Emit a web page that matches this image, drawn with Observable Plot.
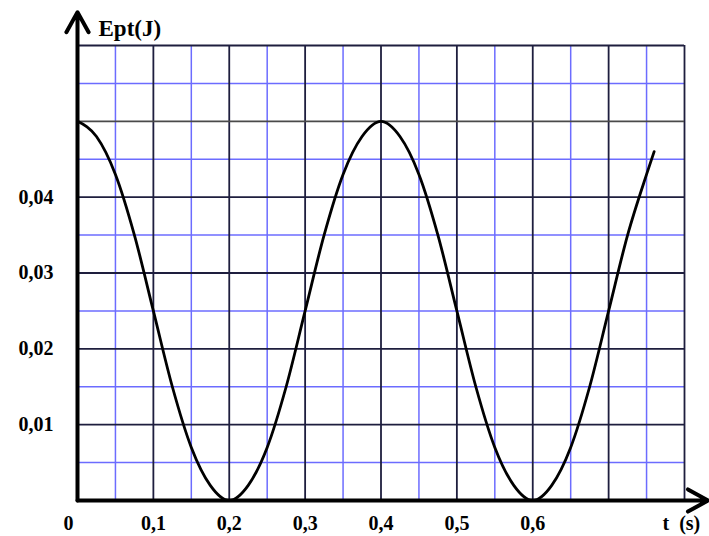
<!DOCTYPE html>
<html>
<head>
<meta charset="utf-8">
<script src="https://cdn.jsdelivr.net/npm/d3@7"></script>
<script src="https://cdn.jsdelivr.net/npm/@observablehq/plot@0.6"></script>
<style>
  html, body { margin: 0; padding: 0; background: #fff; }
  svg { display: block; }
</style>
</head>
<body>
<div id="chart"></div>
<script>
// Curve: time (s) and potential energy (J)
const tValues = [0, 0.025, 0.05, 0.075, 0.1, 0.125, 0.15, 0.175, 0.2, 0.225, 0.25, 0.275, 0.3, 0.325, 0.35, 0.375, 0.4,
  0.425, 0.45, 0.475, 0.5, 0.525, 0.55, 0.575, 0.6, 0.625, 0.65, 0.675, 0.7, 0.725, 0.75, 0.76];
const eptValues = [0.05, 0.048, 0.043, 0.035, 0.025, 0.015, 0.007, 0.002, 0, 0.002, 0.007, 0.015, 0.025, 0.035, 0.043, 0.048, 0.05,
  0.048, 0.043, 0.035, 0.025, 0.015, 0.007, 0.002, 0, 0.002, 0.007, 0.015, 0.025, 0.035, 0.043, 0.046];

// Grid lines
const xMajor = [0.1, 0.2, 0.3, 0.4, 0.5, 0.6, 0.7, 0.8];
const xMinor = [0.05, 0.15, 0.25, 0.35, 0.45, 0.55, 0.65, 0.75];
const yMajor = [0.01, 0.02, 0.03, 0.04, 0.06];
const yMid = [0.05];
const yMinor = [0.005, 0.015, 0.025, 0.035, 0.045, 0.055];

// Tick labels
const xTicks = [0.1, 0.2, 0.3, 0.4, 0.5, 0.6];
const xTickLabels = ["0,1", "0,2", "0,3", "0,4", "0,5", "0,6"];
const yTicks = [0.01, 0.02, 0.03, 0.04];
const yTickLabels = ["0,01", "0,02", "0,03", "0,04"];

// Domains and arrow extents
const xDomain = [0, 0.8];
const yDomain = [0, 0.06];
const xArrowEnd = 0.831;
const yArrowEnd = 0.0644;

const data = tValues.map((t, i) => ({t, e: eptValues[i]}));
const font = "'Liberation Serif', 'Times New Roman', serif";

const chart = Plot.plot({
  width: 709,
  height: 536,
  marginLeft: 77,
  marginRight: 25,
  marginTop: 45,
  marginBottom: 36,
  x: {domain: xDomain, axis: null},
  y: {domain: yDomain, axis: null},
  style: {fontFamily: font, fontWeight: "bold", background: "#fff", overflow: "visible"},
  marks: [
    Plot.ruleX(xMinor, {stroke: "#6c6cff", strokeWidth: 1.5}),
    Plot.ruleY(yMinor, {stroke: "#6c6cff", strokeWidth: 1.5}),
    Plot.ruleX(xMajor, {stroke: "#1e1e3e", strokeWidth: 1.8}),
    Plot.ruleY(yMajor, {stroke: "#1e1e3e", strokeWidth: 1.8}),
    Plot.ruleY(yMid, {stroke: "#4a4a4a", strokeWidth: 1.8}),
    Plot.line(data, {x: "t", y: "e", curve: "monotone-x", stroke: "#000", strokeWidth: 2.8}),
    Plot.arrow([{x1: 0, y1: 0, x2: xArrowEnd, y2: 0}], {
      x1: "x1", y1: "y1", x2: "x2", y2: "y2", stroke: "#000", strokeWidth: 4,
      headAngle: 58, headLength: 8.6, bend: 0
    }),
    Plot.arrow([{x1: 0, y1: 0, x2: 0, y2: yArrowEnd}], {
      x1: "x1", y1: "y1", x2: "x2", y2: "y2", stroke: "#000", strokeWidth: 4,
      headAngle: 58, headLength: 8.6, bend: 0
    }),
    Plot.text(xTicks, {x: d => d, text: (d, i) => xTickLabels[i], frameAnchor: "bottom", lineAnchor: "middle", dy: 23,
      fontSize: 20, fontWeight: "bold", fill: "#000"}),
    Plot.text(["0"], {x: () => 0, frameAnchor: "bottom", lineAnchor: "middle", dx: -9, dy: 23, fontSize: 20, fontWeight: "bold", fill: "#000"}),
    Plot.text(yTicks, {y: d => d, text: (d, i) => yTickLabels[i], frameAnchor: "left", lineAnchor: "middle", dx: -24, textAnchor: "end",
      fontSize: 20, fontWeight: "bold", fill: "#000"}),
    Plot.text(["t\u00a0\u00a0(s)"], {frameAnchor: "bottom-right", lineAnchor: "middle", dx: -22, dy: 23, textAnchor: "start",
      fontSize: 20, fontWeight: "bold", fill: "#000"}),
    Plot.text(["Ept(J)"], {frameAnchor: "top-left", lineAnchor: "middle", dx: 21, dy: -17, textAnchor: "start",
      fontSize: 23, fontWeight: "bold", fill: "#000"})
  ]
});
document.getElementById("chart").append(chart);
</script>
</body>
</html>
